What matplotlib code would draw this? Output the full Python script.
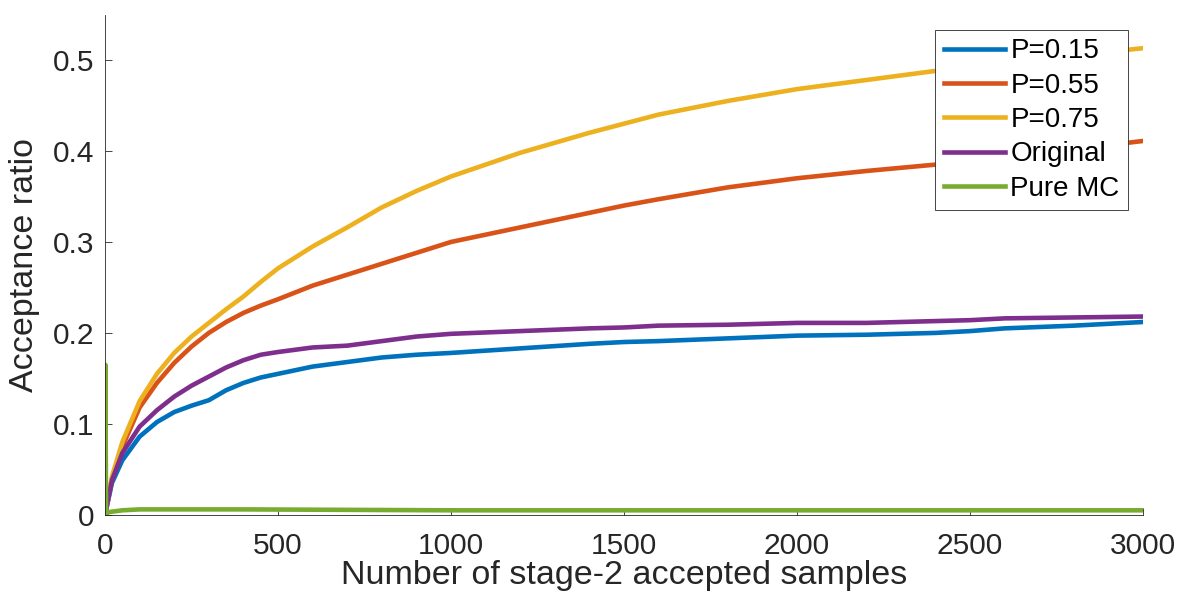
import matplotlib.pyplot as plt
import numpy as np

plt.rcParams['font.family'] = ['Liberation Sans', 'DejaVu Sans']

# values
x = [0, 20, 50, 100, 150, 200, 250, 300, 350, 400, 450, 500, 600, 700, 800, 900,
     1000, 1200, 1400, 1500, 1600, 1800, 2000, 2200, 2400, 2500, 2600, 2800, 3000]
p15 = [0, 0.035, 0.06, 0.086, 0.102, 0.113, 0.12, 0.126, 0.137, 0.145, 0.151, 0.155,
       0.163, 0.168, 0.173, 0.176, 0.178, 0.183, 0.188, 0.19, 0.191, 0.194, 0.197,
       0.198, 0.2, 0.202, 0.205, 0.208, 0.212]
p55 = [0, 0.04, 0.075, 0.118, 0.145, 0.167, 0.185, 0.2, 0.212, 0.222, 0.23, 0.237,
       0.252, 0.264, 0.276, 0.288, 0.3, 0.316, 0.332, 0.34, 0.347, 0.36, 0.37,
       0.378, 0.385, 0.39, 0.395, 0.402, 0.411]
p75 = [0, 0.042, 0.08, 0.125, 0.155, 0.178, 0.196, 0.211, 0.226, 0.24, 0.256, 0.271,
       0.295, 0.316, 0.338, 0.356, 0.372, 0.398, 0.42, 0.43, 0.44, 0.455, 0.468,
       0.478, 0.488, 0.494, 0.498, 0.505, 0.513]
orig = [0, 0.038, 0.068, 0.097, 0.115, 0.13, 0.142, 0.152, 0.162, 0.17, 0.176, 0.179,
        0.184, 0.186, 0.191, 0.196, 0.199, 0.202, 0.205, 0.206, 0.208, 0.209, 0.211,
        0.211, 0.213, 0.214, 0.216, 0.217, 0.218]
mc_x = [0, 1, 3, 10, 50, 100, 400, 1000, 2000, 3000]
mc = [0.0, 0.165, 0.0, 0.003, 0.005, 0.006, 0.006, 0.005, 0.005, 0.005]

names = ['P=0.15', 'P=0.55', 'P=0.75', 'Original', 'Pure MC']
colors = ['#0072BD', '#D95319', '#EDB120', '#7E2F8E', '#77AC30']
xticks = [0, 500, 1000, 1500, 2000, 2500, 3000]
yticks = [0, 0.1, 0.2, 0.3, 0.4, 0.5]
ytick_labels = ['0', '0.1', '0.2', '0.3', '0.4', '0.5']

fig = plt.figure(figsize=(11.8, 6.05), dpi=100)
ax = fig.add_axes([0.089, 0.149, 0.8797, 0.827])

ax.plot(x, p15, color=colors[0], lw=3.3, label=names[0])
ax.plot(x, p55, color=colors[1], lw=3.3, label=names[1])
ax.plot(x, p75, color=colors[2], lw=3.3, label=names[2])
ax.plot(x, orig, color=colors[3], lw=3.3, label=names[3])
ax.plot(mc_x, mc, color=colors[4], lw=3.3, label=names[4])

ax.set_xlim(0, 3000)
ax.set_ylim(0, 0.55)
ax.set_xticks(xticks)
ax.set_yticks(yticks)
ax.set_yticklabels(ytick_labels)

gray = '#262626'
for s in ['top', 'right']:
    ax.spines[s].set_visible(False)
for s in ['left', 'bottom']:
    ax.spines[s].set_color(gray)
    ax.spines[s].set_linewidth(0.6)
ax.tick_params(direction='in', length=5, width=0.6, colors=gray, labelsize=21.5)
ax.tick_params(axis='y', pad=8)
ax.tick_params(axis='x', pad=12)

ax.set_xlabel('Number of stage-2 accepted samples', fontsize=24.5, color=gray, labelpad=0)
ax.set_ylabel('Acceptance ratio', fontsize=24.5, color=gray, labelpad=9)

leg = ax.legend(loc='upper right', bbox_to_anchor=(1128 / 1180, 1 - 30 / 605),
                bbox_transform=fig.transFigure, borderaxespad=0, fontsize=20,
                handlelength=2.2, handletextpad=0.2, borderpad=0.3, labelspacing=0.3,
                fancybox=False, framealpha=1)
leg.get_frame().set_edgecolor(gray)
leg.get_frame().set_linewidth(0.6)

fig.savefig('out.png', dpi=100)
